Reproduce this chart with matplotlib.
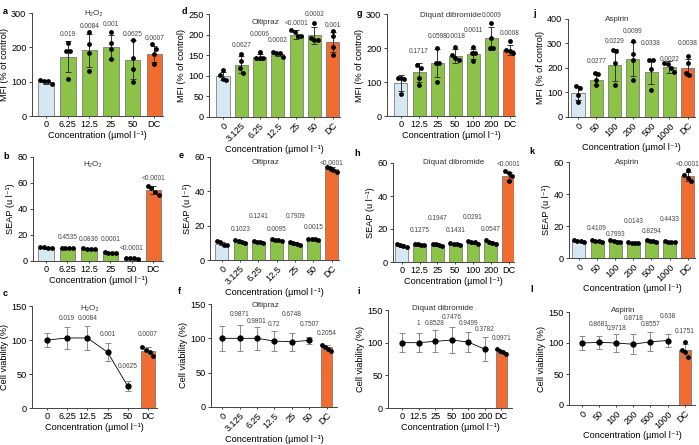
import numpy as np
import matplotlib
matplotlib.use("Agg")
import matplotlib.pyplot as plt

plt.rcParams['font.family'] = ['Liberation Sans', 'DejaVu Sans']

# ---- row 1: MFI ----
a_cats = ['0', '6.25', '12.5', '25', '50', 'DC']
a_mean = [100, 172, 192, 200, 164, 180]
a_sd = [6, 45, 48, 35, 57, 23]
a_pts = [[104, 103, 102, 92], [212, 188, 188, 107], [244, 210, 183, 130],
         [246, 213, 196, 166], [222, 168, 138, 100], [209, 195, 180, 152]]
a_p = ['', '0.019', '0.0084', '0.001', '0.0625', '0.0007']
a_py = [0, 237, 261, 266, 238, 225]

d_cats = ['0', '3.125', '6.25', '12.5', '25', '50', 'DC']
d_mean = [99, 127, 146, 153, 200, 198, 182]
d_sd = [10, 20, 8, 5, 10, 20, 25]
d_pts = [[115, 102, 92, 90], [153, 136, 118, 106], [157, 143, 143, 143],
         [157, 155, 155, 146], [212, 206, 196, 196], [229, 191, 188, 188],
         [209, 196, 170, 150]]
d_p = ['', '0.0627', '0.0006', '0.0002', '<0.0001', '0.0002', '0.001']
d_py = [0, 174, 200, 185, 227, 250, 221]

g_cats = ['0', '12.5', '25', '50', '100', '200', 'DC']
g_mean = [98, 128, 156, 176, 183, 228, 193]
g_sd = [23, 28, 40, 20, 15, 35, 15]
g_pts = [[113, 112, 110, 65], [150, 140, 112, 90], [200, 155, 155, 100],
         [203, 180, 170, 165], [203, 185, 185, 163], [275, 230, 200, 200],
         [220, 195, 190, 185]]
g_p = ['', '0.1717', '0.0598', '0.0018', '0.0011', '0.0009', '0.0008']
g_py = [0, 189, 233, 233, 251, 297, 243]

j_cats = ['0', '50', '100', '200', '500', '1000', 'DC']
j_mean = [99, 153, 212, 237, 185, 205, 201]
j_sd = [28, 22, 65, 70, 50, 25, 35]
j_pts = [[126, 120, 89, 62], [181, 175, 153, 130], [274, 270, 219, 130],
         [311, 256, 233, 151], [233, 233, 195, 110], [220, 218, 200, 182],
         [247, 219, 178, 171]]
j_p = ['', '0.0277', '0.0229', '0.0099', '0.0338', '0.0022', '0.0038']
j_py = [0, 226, 308, 347, 301, 236, 301]

# ---- row 2: SEAP ----
b_cats = a_cats
b_mean = [10, 10, 9.5, 6.5, 2, 54.5]
b_sd = [0.5, 0.5, 0.5, 0.5, 0.3, 3]
b_pts = [[10.8, 10.5, 10.3, 10], [10.3, 10, 10, 9.8], [9.8, 9.5, 9.5, 9.3],
         [6.8, 6.5, 6.5, 6.2], [2.2, 2, 2, 1.9], [58, 56, 53, 51]]
b_p = ['', '0.4535', '0.0836', '0.0001', '<0.0001', '<0.0001']
b_py = [0, 18.3, 16.7, 16.7, 9.8, 63.8]

e_cats = d_cats
e_mean = [9.5, 10.5, 10.5, 11.5, 9.5, 12, 53]
e_sd = [1, 0.7, 0.5, 0.6, 0.8, 0.3, 1]
e_pts = [[11, 10.5, 9, 8.5], [11.5, 10.8, 10.5, 10], [11, 10.6, 10.4, 10],
         [12, 11.6, 11.4, 11], [10.5, 9.8, 9.2, 8.8], [12.3, 12.1, 12, 11.9],
         [54, 53.5, 52.5, 51]]
e_p = ['', '0.1023', '0.1241', '0.0095', '0.7909', '0.0015', '<0.0001']
e_py = [0, 17.5, 25.3, 17.5, 25.3, 19.1, 56]

h_cats = g_cats
h_mean = [10, 10.5, 10.5, 11, 12, 12, 52]
h_sd = [0.8, 0.5, 0.7, 0.8, 1, 1, 2.5]
h_pts = [[10.8, 10.5, 10, 9.2], [11, 10.7, 10.5, 10.2], [11.2, 10.8, 10.2, 9.8],
         [11.6, 11.2, 10.8, 10.2], [13, 12.4, 12, 11.2], [13.2, 12.2, 11.8, 11.2],
         [55, 54, 52, 49]]
h_p = ['', '0.1275', '0.1947', '0.1431', '0.0291', '0.0547', '<0.0001']
h_py = [0, 19.2, 26.3, 19.2, 26.9, 19.8, 59]

k_cats = j_cats
k_mean = [10.5, 10.5, 10.5, 9.5, 10.5, 10, 51]
k_sd = [0.6, 0.5, 0.8, 0.3, 0.5, 0.4, 3]
k_pts = [[11.2, 10.8, 10.4, 9.8], [11, 10.8, 10.4, 10.1], [11.4, 10.8, 10.2, 9.8],
         [9.8, 9.6, 9.5, 9.3], [11, 10.7, 10.4, 10.1], [10.4, 10.2, 10, 9.8],
         [55, 52, 50, 48]]
k_p = ['', '0.4109', '0.7993', '0.0143', '0.8294', '0.4433', '<0.0001']
k_py = [0, 18.2, 14.9, 22.8, 16.6, 24.2, 58.6]

# ---- row 3: cell viability ----
c_cats = a_cats
c_mean = [100, 103, 103, 82, 32, 84]
c_sd = [10, 16, 17, 13, 7, 6]
c_dc = [90, 86, 83, 77]
c_p = ['', '0.019', '0.0084', '0.001', '0.0625', '0.0007']
c_py = [0, 131, 131, 108, 61, 108]

f_cats = d_cats
f_mean = [100, 100, 100, 96, 95, 97, 87]
f_sd = [18, 19, 17, 15, 13, 5, 4]
f_dc = [91, 88, 85, 82]
f_p = ['', '0.9871', '0.9801', '0.72', '0.6748', '0.7507', '0.2054']
f_py = [0, 135, 125, 120, 135, 120, 107]

i_cats = g_cats
i_mean = [100, 100, 102, 104, 101, 90, 85]
i_sd = [15, 15, 17, 20, 15, 18, 3]
i_dc = [90, 87, 85, 82]
i_p = ['', '1', '0.8528', '0.7476', '0.9499', '0.3782', '0.0971']
i_py = [0, 130, 130, 138, 130, 120, 106.5]

l_cats = j_cats
l_mean = [100, 101, 100, 98, 102, 104, 88]
l_sd = [11, 11, 15, 16, 15, 11, 10]
l_dc = [101, 88, 85, 78]
l_p = ['', '0.8681', '0.9718', '0.8718', '0.8557', '0.638', '0.1751']
l_py = [0, 130, 124, 139, 130, 142, 119]

BLUE = '#d6e8f1'
GREEN = '#8cc248'
ORANGE = '#f06c30'
AX = '#444444'
W, H = 699, 445

fig = plt.figure(figsize=(W / 100, H / 100), dpi=100)


def add_ax(x0, x1, yt, yb):
    return fig.add_axes([x0 / W, 1 - yb / H, (x1 - x0) / W, (yb - yt) / H])


def swarm(vals, thr, step=0.18):
    vals = np.asarray(vals, float)
    order = np.argsort(vals)[::-1]
    offs = np.zeros(len(vals))
    groups, cur = [], [order[0]]
    for idx in order[1:]:
        if abs(vals[cur[-1]] - vals[idx]) < thr:
            cur.append(idx)
        else:
            groups.append(cur)
            cur = [idx]
    groups.append(cur)
    for g in groups:
        for n, idx in enumerate(g):
            offs[idx] = (n - (len(g) - 1) / 2) * step
    return offs


def style(ax, cats, ymax, ystep, xlim, ylabel, rot, title, tpos):
    ax.set_xlim(*xlim)
    ax.set_ylim(0, ymax)
    ax.set_yticks(np.arange(0, ymax + 0.1, ystep))
    ax.set_xticks(range(len(cats)))
    if rot:
        ax.set_xticklabels(cats, rotation=45, ha='right', rotation_mode='anchor')
    else:
        ax.set_xticklabels(cats)
    for s in ['top', 'right']:
        ax.spines[s].set_visible(False)
    for s in ['left', 'bottom']:
        ax.spines[s].set_color(AX)
        ax.spines[s].set_linewidth(0.7)
    ax.tick_params(axis='both', labelsize=6.6, width=0.7, length=2.5, color=AX, pad=1.5)
    ax.tick_params(axis='x', length=1.5)
    ax.set_ylabel(ylabel, fontsize=6.6, labelpad=1.5)
    ax.set_xlabel('Concentration (µmol l⁻¹)', fontsize=6.6, labelpad=1)
    ax.text(tpos[0], tpos[1], title, transform=ax.transAxes, ha='center',
            va='center', fontsize=5.9, color='#333333')


def pvals(ax, labels, ys):
    for n, (t, y) in enumerate(zip(labels, ys)):
        if t:
            ax.text(n, y, t, ha='center', va='center', fontsize=4.7,
                    color='#444444', clip_on=False)


def bar_panel(box, xlim, cats, mean, sd, pts, pl, py, ymax, ystep, ylabel, rot, title, tpos):
    ax = add_ax(*box)
    n = len(cats)
    x = np.arange(n)
    cols = [BLUE] + [GREEN] * (n - 2) + [ORANGE]
    ax.bar(x, mean, width=0.72, color=cols, edgecolor='#6a6a6a', linewidth=0.5, zorder=2)
    ax.errorbar(x, mean, yerr=sd, fmt='none', ecolor='#333333', elinewidth=0.7,
                capsize=2, capthick=0.7, zorder=3)
    for k in range(n):
        off = swarm(pts[k], 0.05 * ymax)
        ax.scatter(x[k] + off, pts[k], s=12, color='black', zorder=4, linewidths=0)
    pvals(ax, pl, py)
    style(ax, cats, ymax, ystep, xlim, ylabel, rot, title, tpos)
    return ax


def via_panel(box, xlim, cats, mean, sd, dc, pl, py, rot, title, tpos):
    ax = add_ax(*box)
    n = len(cats)
    x = np.arange(n)
    ax.errorbar(x[:-1], mean[:-1], yerr=sd[:-1], fmt='-o', color='black', ms=3.5,
                lw=0.6, ecolor='#8a8a8a', elinewidth=0.7, capsize=2, capthick=0.7, zorder=3)
    ax.bar(x[-1], mean[-1], width=0.68, color=ORANGE, edgecolor='#6a6a6a', linewidth=0.5, zorder=2)
    ax.errorbar(x[-1], mean[-1], yerr=sd[-1], fmt='none', ecolor='#8a8a8a',
                elinewidth=0.7, capsize=2, capthick=0.7, zorder=3)
    off = swarm(dc, 0.05 * 150)
    ax.scatter(x[-1] + off, dc, s=12, color='black', zorder=4, linewidths=0)
    pvals(ax, pl, py)
    style(ax, cats, 150, 50, xlim, 'Cell viability (%)', rot, title, tpos)
    return ax


MFI = 'MFI (% of control)'
SEAP = 'SEAP (u l⁻¹)'
H2O2 = 'H₂O₂'

bar_panel((32, 163, 13, 116), (-0.65, 5.4), a_cats, a_mean, a_sd, a_pts, a_p, a_py,
          300, 100, MFI, False, H2O2, (0.47, 1.0))
bar_panel((209, 340, 14, 117), (-0.77, 6.4), d_cats, d_mean, d_sd, d_pts, d_p, d_py,
          250, 50, MFI, True, 'Oltipraz', (0.43, 0.92))
bar_panel((387, 515, 14, 116), (-0.77, 6.3), g_cats, g_mean, g_sd, g_pts, g_p, g_py,
          300, 100, MFI, False, 'Diquat dibromide', (0.5, 0.99))
bar_panel((568, 695, 19, 117), (-0.55, 6.4), j_cats, j_mean, j_sd, j_pts, j_p, j_py,
          400, 100, MFI, True, 'Aspirin', (0.39, 0.99))

bar_panel((33, 163, 157, 261), (-0.6, 5.45), b_cats, b_mean, b_sd, b_pts, b_p, b_py,
          80, 20, SEAP, False, H2O2, (0.46, 0.93))
bar_panel((210, 339, 157, 260), (-0.65, 6.4), e_cats, e_mean, e_sd, e_pts, e_p, e_py,
          60, 20, SEAP, True, 'Oltipraz', (0.43, 0.95))
bar_panel((393, 514, 163, 262), (-0.5, 6.3), h_cats, h_mean, h_sd, h_pts, h_p, h_py,
          60, 20, SEAP, False, 'Diquat dibromide', (0.5, 1.01))
bar_panel((569, 695, 162, 258), (-0.55, 6.4), k_cats, k_mean, k_sd, k_pts, k_p, k_py,
          60, 20, SEAP, True, 'Aspirin', (0.46, 1.0))

via_panel((32, 157, 306, 408), (-0.75, 5.45), c_cats, c_mean, c_sd, c_dc, c_p, c_py,
          False, H2O2, (0.46, 0.98))
via_panel((211, 337, 304, 407), (-0.65, 6.6), f_cats, f_mean, f_sd, f_dc, f_p, f_py,
          True, 'Oltipraz', (0.43, 0.99))
via_panel((388, 512, 310, 408), (-0.85, 6.65), i_cats, i_mean, i_sd, i_dc, i_p, i_py,
          False, 'Diquat dibromide', (0.44, 1.02))
via_panel((569, 695, 312, 405), (-0.75, 6.6), l_cats, l_mean, l_sd, l_dc, l_p, l_py,
          True, 'Aspirin', (0.43, 1.02))

letters = [('a', 3, 12), ('d', 182, 12), ('g', 357, 14), ('j', 533, 13),
           ('b', 3, 157), ('e', 179, 155), ('h', 354, 154), ('k', 529, 152),
           ('c', 3, 294), ('f', 178, 291), ('i', 357, 292), ('l', 530, 290)]
for t, px, py in letters:
    fig.text(px / W, 1 - py / H, t, fontsize=6.5, fontweight='bold', ha='left', va='center')

fig.savefig('out.png', dpi=100)
